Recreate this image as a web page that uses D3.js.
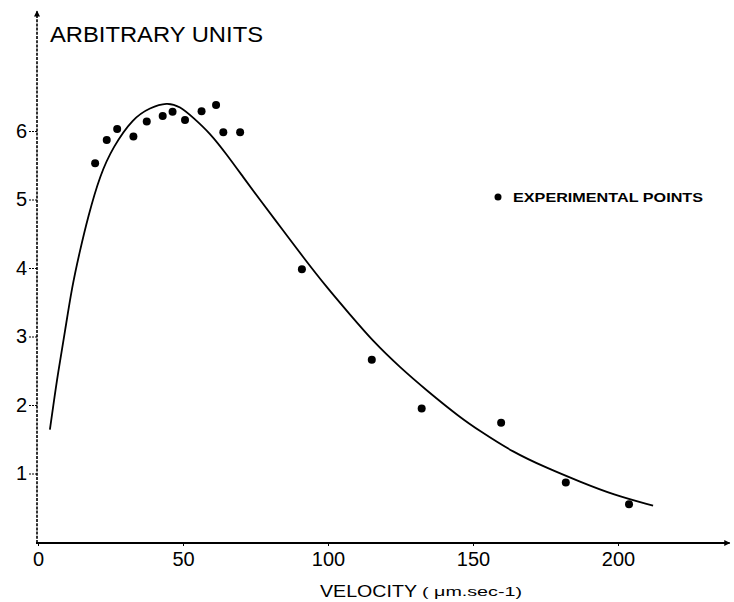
<!DOCTYPE html>
<html>
<head>
<meta charset="utf-8">
<script src="https://cdnjs.cloudflare.com/ajax/libs/d3/7.8.5/d3.min.js"></script>
<style>
  html, body { margin: 0; padding: 0; background: #fff; }
  svg { display: block; }
  text { font-family: "Liberation Sans", Arial, Helvetica, sans-serif; fill: #000; }
</style>
</head>
<body>
<svg id="chart" width="734" height="602"></svg>
<script>
// Experimental points: velocity (µm/sec) and relative amount (arbitrary units)
const pointVelocity = [19.7, 23.7, 27.3, 32.9, 37.5, 43.0, 46.4, 50.7, 56.4, 61.4, 63.9, 69.7, 91.0, 115.1, 132.3, 159.7, 182.0, 203.8];
const pointValue    = [5.53, 5.87, 6.03, 5.92, 6.14, 6.22, 6.28, 6.16, 6.29, 6.38, 5.98, 5.98, 3.98, 2.66, 1.95, 1.74, 0.87, 0.55];

// Fitted distribution curve
const curveVelocity = [4.1, 5.2, 6.9, 9.3, 11.7, 14.5, 17.2, 21.4, 25.9, 32.8, 38.6, 44.5, 49.0, 53.4, 59.3, 65.2, 70.7, 76.6, 84.5, 91.4, 99.7, 107.6, 115.5, 124.8, 134.1, 145.5, 152.4, 163.8, 175.5, 186.9, 198.3, 212.1];
const curveValue    = [1.64, 1.97, 2.47, 3.07, 3.72, 4.26, 4.74, 5.36, 5.77, 6.19, 6.34, 6.42, 6.36, 6.20, 5.97, 5.65, 5.33, 4.99, 4.55, 4.16, 3.71, 3.32, 2.93, 2.55, 2.21, 1.82, 1.62, 1.31, 1.08, 0.88, 0.69, 0.53];

// Axis ticks and labels
const xTicks = [0, 50, 100, 150, 200];
const yTicks = [1, 2, 3, 4, 5, 6];
const yTitle = "ARBITRARY UNITS";
const xTitle = "VELOCITY";
const xUnit = "( μm.sec-1)";
const legendLabel = "EXPERIMENTAL POINTS";

const svg = d3.select("#chart");

const x = d3.scaleLinear().domain([0, 240]).range([38, 38 + 2.9 * 240]);
const y = d3.scaleLinear().domain([0, 7.8]).range([542, 542 - 68.5 * 7.8]);

// Arrow heads for the axes
const defs = svg.append("defs");
defs.append("marker")
  .attr("id", "arrow")
  .attr("viewBox", "0 0 10 10")
  .attr("refX", 9).attr("refY", 5)
  .attr("markerWidth", 7).attr("markerHeight", 6)
  .attr("markerUnits", "userSpaceOnUse")
  .attr("orient", "auto")
  .append("path")
  .attr("d", "M0,0 L10,5 L0,10 Z")
  .attr("fill", "#000");

// Y axis (dotted look of the original ink line)
svg.append("line")
  .attr("x1", x(0) - 1).attr("x2", x(0) - 1)
  .attr("y1", y(0) + 1).attr("y2", y(7.75))
  .attr("stroke", "#000").attr("stroke-width", 1.6)
  .attr("stroke-dasharray", "3,1.2")
  .attr("marker-end", "url(#arrow)");

// X axis
svg.append("line")
  .attr("x1", x(0) - 2).attr("x2", x(238.5))
  .attr("y1", y(0) + 1).attr("y2", y(0) + 1)
  .attr("stroke", "#000").attr("stroke-width", 2.2)
  .attr("marker-end", "url(#arrow)");

const yAxis = svg.append("g")
  .attr("transform", `translate(${x(0) - 1},0)`)
  .call(d3.axisLeft(y).tickValues(yTicks).tickSize(8).tickPadding(2).tickFormat(d3.format("d")));
yAxis.select(".domain").remove();
yAxis.selectAll(".tick line").attr("stroke", "#000").attr("stroke-width", 1.2).attr("stroke-dasharray", "2,1");
yAxis.selectAll(".tick text")
  .style("font-size", "20px")
  .style("font-family", "\"Liberation Sans\", Arial, sans-serif")
  .attr("fill", "#000");

const xAxis = svg.append("g")
  .attr("transform", `translate(0,${y(0) + 1})`)
  .call(d3.axisBottom(x).tickValues(xTicks).tickSize(3).tickPadding(6).tickFormat(d3.format("d")));
xAxis.select(".domain").remove();
xAxis.selectAll(".tick line").attr("stroke", "#000").attr("stroke-width", 1);
xAxis.selectAll(".tick text")
  .style("font-size", "20px")
  .style("font-family", "\"Liberation Sans\", Arial, sans-serif")
  .attr("fill", "#000");

// Axis titles
svg.append("text")
  .attr("x", 50).attr("y", 42)
  .attr("textLength", 213).attr("lengthAdjust", "spacingAndGlyphs")
  .style("font-size", "22px")
  .text(yTitle);

svg.append("text")
  .attr("x", 320).attr("y", 597)
  .attr("textLength", 97).attr("lengthAdjust", "spacingAndGlyphs")
  .style("font-size", "17px")
  .text(xTitle);
svg.append("text")
  .attr("x", 422).attr("y", 596)
  .attr("textLength", 100).attr("lengthAdjust", "spacingAndGlyphs")
  .style("font-size", "13px")
  .text(xUnit);

// Fitted curve (smoothed through the read-off points)
const curveData = curveVelocity.map((v, i) => [v, curveValue[i]]);
svg.append("path")
  .datum(curveData)
  .attr("fill", "none")
  .attr("stroke", "#000")
  .attr("stroke-width", 1.8)
  .attr("d", d3.line().x(d => x(d[0])).y(d => y(d[1])).curve(d3.curveBasis));

// Experimental points
const pts = pointVelocity.map((v, i) => [v, pointValue[i]]);
svg.append("g").selectAll("circle")
  .data(pts)
  .enter().append("circle")
  .attr("cx", d => x(d[0]))
  .attr("cy", d => y(d[1]))
  .attr("r", 4)
  .attr("fill", "#000");

// Legend
svg.append("circle")
  .attr("cx", 498).attr("cy", 197).attr("r", 3.5).attr("fill", "#000");
svg.append("text")
  .attr("x", 513).attr("y", 202)
  .attr("textLength", 190).attr("lengthAdjust", "spacingAndGlyphs")
  .style("font-size", "13px")
  .style("font-weight", "bold")
  .text(legendLabel);
</script>
</body>
</html>
